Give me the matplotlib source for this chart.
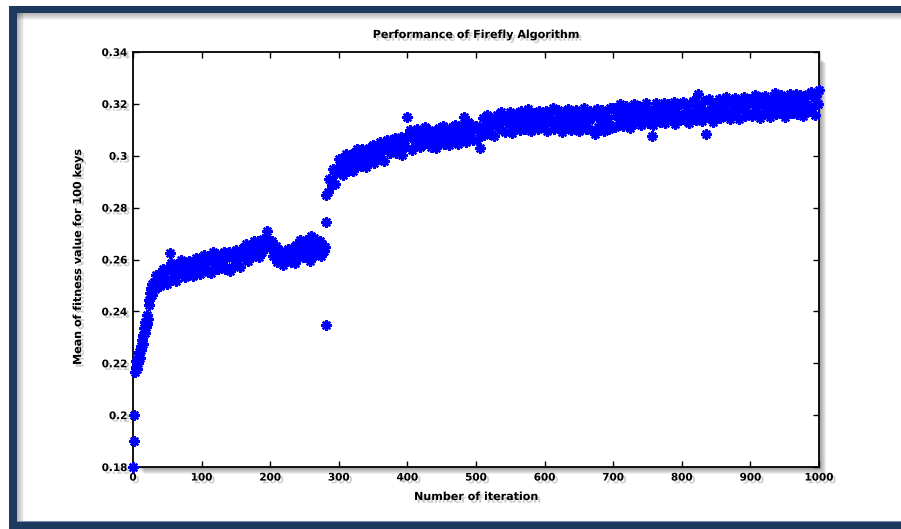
import numpy as np
import matplotlib
matplotlib.use("Agg")
import matplotlib.pyplot as plt
from matplotlib import patheffects as pe
from matplotlib.patches import Rectangle

# ---------------- text ----------------
title = "Performance of Firefly Algorithm"
xlabel = "Number of iteration"
ylabel = "Mean of fitness value for 100 keys"
xticks = [0, 100, 200, 300, 400, 500, 600, 700, 800, 900, 1000]
xtick_labels = ["0", "100", "200", "300", "400", "500", "600", "700", "800", "900", "1000"]
yticks = [0.18, 0.20, 0.22, 0.24, 0.26, 0.28, 0.30, 0.32, 0.34]
ytick_labels = ["0.18", "0.2", "0.22", "0.24", "0.26", "0.28", "0.3", "0.32", "0.34"]

# ---------------- data (mean fitness, in units of 1e-4) ----------------
iter_early = list(range(0, 30))
fit_000_029 = [1800, 1900, 2000, 2168, 2185, 2210, 2178, 2225, 2200, 2242,
               2222, 2265, 2250, 2290, 2275, 2310, 2335, 2318, 2360, 2338,
               2385, 2350, 2372, 2445, 2425, 2470, 2490, 2462, 2505, 2485]

iter_main = list(range(30, 1001, 2))
fit_030_098 = [2514, 2488, 2541, 2514, 2541, 2497, 2536, 2565, 2525, 2561,
               2505, 2563, 2625, 2586, 2534, 2563, 2519, 2584, 2549, 2577,
               2598, 2545, 2565, 2532, 2586, 2558, 2595, 2544, 2576, 2535,
               2584, 2606, 2557, 2571, 2545]
fit_100_198 = [2608, 2566, 2619, 2583, 2602, 2550, 2612, 2548, 2627, 2591,
               2569, 2622, 2563, 2600, 2614, 2579, 2627, 2562, 2605, 2623,
               2630, 2556, 2570, 2615, 2599, 2637, 2584, 2626, 2572, 2618,
               2643, 2604, 2661, 2616, 2593, 2650, 2641, 2608, 2670, 2625,
               2642, 2672, 2609, 2663, 2629, 2680, 2650, 2681, 2708, 2671]
fit_200_298 = [2644, 2671, 2614, 2635, 2653, 2590, 2629, 2607, 2633, 2577,
               2620, 2630, 2596, 2642, 2608, 2589, 2643, 2627, 2588, 2656,
               2645, 2608, 2675, 2625, 2609, 2647, 2674, 2624, 2669, 2594,
               2690, 2641, 2681, 2617, 2664, 2637, 2672, 2612, 2658, 2632,
               2650, 2848, 2862, 2912, 2904, 2888, 2947, 2891, 2933, 2953]
fit_300_398 = [2986, 2933, 2969, 2924, 2986, 3006, 2957, 2941, 2991, 2979,
               2943, 3009, 2974, 3027, 2966, 3000, 2962, 3027, 2991, 3020,
               2955, 3013, 3030, 2985, 3002, 3041, 2973, 3014, 3031, 2998,
               3052, 2987, 3023, 2979, 3035, 3062, 3025, 3010, 3060, 3021,
               3040, 3070, 3010, 3051, 3023, 3072, 3004, 3061, 3038, 3074]
fit_400_498 = [3150, 3075, 3098, 3024, 3069, 3085, 3048, 3103, 3059, 3034,
               3094, 3077, 3044, 3110, 3057, 3070, 3101, 3034, 3089, 3068,
               3097, 3030, 3082, 3106, 3054, 3064, 3114, 3046, 3091, 3080,
               3043, 3107, 3065, 3103, 3055, 3118, 3090, 3044, 3104, 3080,
               3117, 3150, 3100, 3052, 3131, 3074, 3093, 3119, 3061, 3109]
fit_500_598 = [3116, 3060, 3107, 3030, 3088, 3144, 3081, 3121, 3156, 3105,
               3083, 3144, 3122, 3078, 3140, 3159, 3106, 3122, 3170, 3101,
               3140, 3092, 3155, 3145, 3121, 3168, 3087, 3152, 3139, 3109,
               3165, 3132, 3099, 3174, 3121, 3157, 3105, 3144, 3179, 3117,
               3095, 3151, 3164, 3127, 3138, 3104, 3174, 3115, 3148, 3134]
fit_600_698 = [3119, 3173, 3096, 3150, 3164, 3131, 3183, 3105, 3140, 3115,
               3178, 3125, 3155, 3092, 3168, 3144, 3110, 3181, 3135, 3100,
               3159, 3152, 3112, 3175, 3121, 3094, 3166, 3142, 3127, 3184,
               3103, 3159, 3139, 3173, 3100, 3149, 3164, 3085, 3181, 3110,
               3155, 3134, 3178, 3095, 3167, 3126, 3147, 3104, 3184, 3115]
fit_700_798 = [3185, 3110, 3169, 3155, 3126, 3198, 3144, 3116, 3176, 3192,
               3134, 3161, 3107, 3184, 3154, 3199, 3127, 3170, 3142, 3193,
               3117, 3177, 3162, 3133, 3204, 3127, 3171, 3155, 3075, 3117,
               3179, 3202, 3140, 3162, 3129, 3186, 3149, 3205, 3126, 3178,
               3199, 3147, 3136, 3171, 3207, 3123, 3186, 3156, 3201, 3139]
fit_800_898 = [3157, 3207, 3136, 3189, 3173, 3126, 3198, 3148, 3213, 3167,
               3138, 3191, 3240, 3149, 3184, 3135, 3210, 3160, 3085, 3168,
               3217, 3145, 3188, 3130, 3201, 3180, 3161, 3219, 3146, 3198,
               3186, 3152, 3225, 3169, 3212, 3141, 3201, 3176, 3161, 3222,
               3169, 3196, 3143, 3213, 3184, 3226, 3154, 3200, 3163, 3219]
fit_900_1000 = [3216, 3152, 3201, 3233, 3171, 3187, 3225, 3144, 3208, 3196,
                3162, 3230, 3177, 3213, 3148, 3220, 3196, 3173, 3241, 3160,
                3210, 3187, 3233, 3169, 3198, 3150, 3223, 3204, 3178, 3237,
                3163, 3215, 3190, 3239, 3161, 3213, 3233, 3179, 3153, 3225,
                3207, 3188, 3237, 3171, 3247, 3185, 3221, 3159, 3232, 3198,
                3252]

iter_out = [281, 281]
fit_out = [2746, 2348]

iterations = np.array(iter_early + iter_main + iter_out)
fitness = np.array(fit_000_029 + fit_030_098 + fit_100_198 + fit_200_298 +
                   fit_300_398 + fit_400_498 + fit_500_598 + fit_600_698 +
                   fit_700_798 + fit_800_898 + fit_900_1000 + fit_out) * 1e-4

# ---------------- figure ----------------
W, H = 901, 529
fig = plt.figure(figsize=(W / 100, H / 100), dpi=100)
fig.patch.set_facecolor("white")


def px_rect(x0, y0, x1, y1, **kw):
    r = Rectangle((x0 / W, 1 - y1 / H), (x1 - x0) / W, (y1 - y0) / H,
                  transform=fig.transFigure, linewidth=0, **kw)
    fig.add_artist(r)


navy = "#1d3a5e"
# outer frame
px_rect(9, 6, W, 13, facecolor=navy, zorder=-2)
px_rect(9, 6, 17, H, facecolor=navy, zorder=-2)
px_rect(9, 522, W, H, facecolor=navy, zorder=-2)
px_rect(17, 521, W, 522, facecolor="#7d92ad", zorder=-2)
# inner soft shadow of frame
for k in range(7):
    px_rect(17, 13, W, 13 + 7 - k, facecolor="black", alpha=0.045, zorder=-2)
    px_rect(17, 13, 17 + 7 - k, 521, facecolor="black", alpha=0.045, zorder=-2)

# axes box
L, R, T, B = 133, 819, 52, 467
for k in range(1, 8):
    px_rect(L + 4 + k, T + 4 + k, R + k, B + k, facecolor="black", alpha=0.065, zorder=-1)

ax = fig.add_axes([L / W, 1 - B / H, (R - L) / W, (B - T) / H])
ax.set_facecolor("white")

ax.plot(iterations, fitness, linestyle="none", marker=(8, 2, 0), markersize=7.5,
        markeredgewidth=1.7, color="#0000ff", clip_on=False, zorder=3)

ax.set_xlim(0, 1000)
ax.set_ylim(0.18, 0.34)

shadow = [pe.withSimplePatchShadow(offset=(2, -2), shadow_rgbFace="0.45", alpha=0.35)]

ax.set_xticks(xticks)
ax.set_xticklabels(xtick_labels)
ax.set_yticks(yticks)
ax.set_yticklabels(ytick_labels)
ax.tick_params(direction="in", length=4, width=1, top=True, right=True,
               labelsize=7.5, pad=4, colors="black")
for lab in ax.get_xticklabels() + ax.get_yticklabels():
    lab.set_fontweight("bold")
    lab.set_path_effects(shadow)
for sp in ax.spines.values():
    sp.set_linewidth(1.3)
    sp.set_color("black")

fig.text(476 / W, 1 - 35 / H, title, ha="center", va="center", fontsize=8,
         fontweight="bold", path_effects=shadow)
fig.text(476 / W, 1 - 497 / H, xlabel, ha="center", va="center", fontsize=8,
         fontweight="bold", path_effects=shadow)
fig.text(78 / W, 1 - 257 / H, ylabel, ha="center", va="center", fontsize=8,
         fontweight="bold", rotation=90, path_effects=shadow)

fig.savefig("out.png", dpi=100, facecolor="white")
